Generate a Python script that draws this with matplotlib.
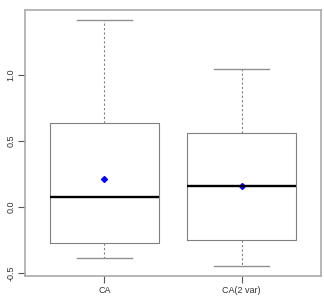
import matplotlib
matplotlib.use("Agg")
import matplotlib.pyplot as plt

categories = ["CA", "CA(2 var)"]
whislo = [-0.384, -0.445]
q1 = [-0.273, -0.252]
medians = [0.076, 0.159]
q3 = [0.636, 0.560]
whishi = [1.419, 1.045]
means = [0.212, 0.161]

plt.rcParams['font.family'] = ['Liberation Sans', 'DejaVu Sans']
fig = plt.figure(figsize=(3.24, 2.96), dpi=100)
ax = fig.add_axes([25/324, 1 - 276/296, 296/324, 266/296])

stats = []
for i in range(len(categories)):
    stats.append(dict(label=categories[i], whislo=whislo[i], q1=q1[i], med=medians[i],
                      q3=q3[i], whishi=whishi[i], mean=means[i], fliers=[]))
pos = list(range(1, len(categories) + 1))
ax.bxp(stats, positions=pos, widths=0.8, showmeans=False, showfliers=False,
       boxprops=dict(color='#808080', linewidth=0.8),
       whiskerprops=dict(color='#808080', linewidth=0.8, linestyle=(0, (2, 2))),
       capprops=dict(color='#909090', linewidth=1.0),
       medianprops=dict(color='black', linewidth=1.7),
       capwidths=0.4)
ax.plot(pos, means, linestyle='none', marker='D', color='#0000ff', markersize=3.0)

ax.set_xlim(0.42, 2.58)
ax.set_ylim(-0.523, 1.492)
ax.set_yticks([-0.5, 0.0, 0.5, 1.0])
ax.set_yticklabels(["-0.5", "0.0", "0.5", "1.0"], rotation=90, va='center')
ax.set_xticks(pos)
ax.set_xticklabels(categories)
for s in ax.spines.values():
    s.set_color('#aaaaaa')
    s.set_linewidth(1.2)
ax.tick_params(axis='both', colors='#555555', labelcolor='#333333', labelsize=6.5,
               length=5, width=0.8, direction='out')
ax.tick_params(axis='x', pad=2)
ax.tick_params(axis='y', pad=2)
fig.savefig("out.png", dpi=100)
